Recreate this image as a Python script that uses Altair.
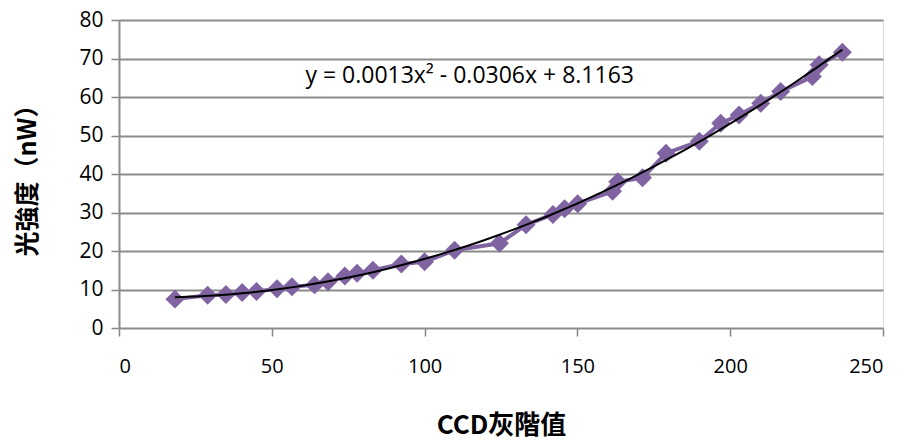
import altair as alt
import pandas as pd

gray_level = [18.3, 29.0, 35.0, 40.3, 45.0, 51.7, 56.6, 64.0, 68.4, 73.9, 77.9, 83.1,
              92.4, 100.0, 109.8, 124.5, 133.2, 142.0, 145.8, 150.1, 161.5, 163.2,
              171.3, 179.0, 189.9, 196.9, 202.9, 210.0, 216.5, 226.9, 229.1, 236.7]
power_nw = [7.5, 8.5, 8.7, 9.2, 9.5, 10.2, 10.7, 11.2, 12.0, 13.5, 14.2, 15.0,
            16.6, 17.2, 20.2, 22.0, 26.8, 29.5, 31.0, 32.3, 35.5, 38.0,
            39.0, 45.4, 48.5, 53.2, 55.3, 58.4, 61.4, 65.3, 68.4, 71.6]
x_ticks = [0, 50, 100, 150, 200, 250]
y_ticks = [0, 10, 20, 30, 40, 50, 60, 70, 80]
equation = "y = 0.0013x² - 0.0306x + 8.1163"

df = pd.DataFrame({"x": gray_level, "y": power_nw})

FONT = "Open Sans"
xs = alt.Scale(domain=[0, 250], nice=False, zero=False)
ys = alt.Scale(domain=[0, 80], nice=False)

x_axis = alt.Axis(title="CCD灰階值", values=x_ticks, tickCount=6,
                  grid=False, domain=False, tickColor="#868686", tickWidth=1.5,
                  tickSize=8, labelPadding=20, labelFontSize=20, labelFont=FONT,
                  labelColor="#000000", labelOverlap=False,
                  titleFont="Noto Sans CJK TC",
                  titleFontSize=26, titleFontWeight="bold", titlePadding=36,
                  titleColor="#000000")
y_axis = alt.Axis(title="光強度（nW）", values=y_ticks, tickCount=9,
                  grid=True, gridColor="#8c8c8c", gridWidth=2,
                  domainColor="#8c8c8c", domainWidth=2,
                  tickColor="#868686", tickWidth=1.5, tickSize=8, labelPadding=8,
                  labelFontSize=21, labelFont=FONT, labelColor="#000000",
                  labelOverlap=False,
                  titleFont="Noto Sans CJK TC", titleFontSize=25,
                  titleFontWeight="bold", titlePadding=38, titleColor="#000000")

X = alt.X("x:Q", scale=xs, axis=x_axis)
Y = alt.Y("y:Q", scale=ys, axis=y_axis)

base = alt.Chart(df)

line = base.mark_line(color="#8064A2", strokeWidth=4).encode(x=X, y=Y, order="x:Q")

points = base.mark_point(shape="diamond", filled=True, size=360, color="#8064A2",
                         opacity=1).encode(x=X, y=Y)

trend = base.transform_regression("x", "y", method="poly", order=2).mark_line(
    color="#000000", strokeWidth=2).encode(x=X, y=Y)

label = alt.Chart(pd.DataFrame({"x": [61.0], "y": [65.5], "t": [equation]})).mark_text(
    align="left", baseline="middle", fontSize=23, font=FONT, color="#000000").encode(
    x=X, y=Y, text="t:N")

chart = alt.layer(line, points, trend, label).properties(
    width=764, height=308,
    autosize=alt.AutoSizeParams(type="none"),
    padding={"left": 111, "top": 12, "right": 15, "bottom": 113},
).configure_view(stroke="#d9d9d9", strokeWidth=1).configure(background="#ffffff")

chart.save("out.html", embed_options={"renderer": "svg", "actions": False})
